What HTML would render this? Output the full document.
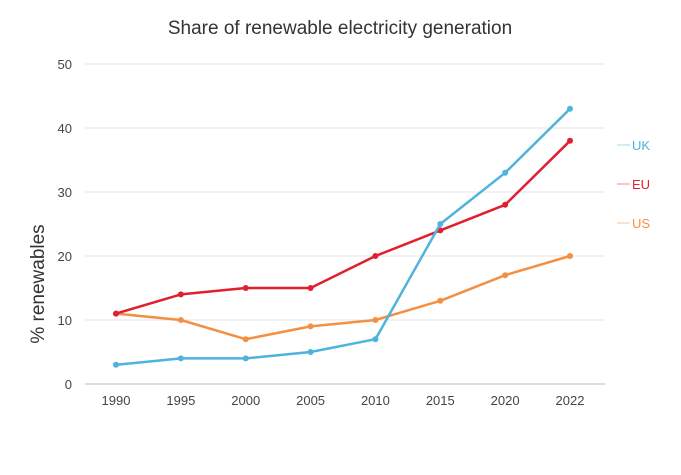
<!DOCTYPE html>
<html><head><meta charset="utf-8"><style>
body{margin:0;background:#fff;}
svg{display:block;font-family:"Liberation Sans",sans-serif;}
</style></head><body>
<svg id="chart" width="681" height="475" viewBox="0 0 681 475">
<text x="340" y="34" text-anchor="middle" font-size="19" fill="#333">Share of renewable electricity generation</text>
<text transform="translate(44,284) rotate(-90)" text-anchor="middle" font-size="19" fill="#333">% renewables</text>
<g id="grid"></g><g id="series"></g><g id="legend"></g>
</svg>
<script>
const categories=["1990","1995","2000","2005","2010","2015","2020","2022"];
const yTicks=[0,10,20,30,40,50];
const ukValues=[3,4,4,5,7,25,33,43];
const euValues=[11,14,15,15,20,24,28,38];
const usValues=[11,10,7,9,10,13,17,20];
const seriesNames=["UK","EU","US"];
const NS="http://www.w3.org/2000/svg";
const x=i=>116+i*((570-116)/(categories.length-1));
const y=v=>384-v*6.4;
function mk(tag,attrs,parent){const e=document.createElementNS(NS,tag);for(const k in attrs)e.setAttribute(k,attrs[k]);parent.appendChild(e);return e;}
const grid=document.getElementById('grid');
yTicks.forEach(t=>{
 const l=mk('line',{x1:85,x2:605,y1:y(t),y2:y(t),stroke:t===0?'#bbb':'#e4e4e4','stroke-width':1},grid);
 
 
 const tx=mk('text',{x:72,y:y(t)+5,'text-anchor':'end','font-size':13,fill:'#444'},grid);
 tx.textContent=t;
 
 
});
categories.forEach((c,i)=>{
 const tx=mk('text',{x:x(i),y:405,'text-anchor':'middle','font-size':13,fill:'#444'},grid);
 tx.textContent=c;
 
 
});
const sg=document.getElementById('series'),lg=document.getElementById('legend');
const all=[[ukValues,'#4fb3dc'],[euValues,'#e0202e'],[usValues,'#f39044']];
const order=[2,1,0];
order.forEach(si=>{
 const [vals,col]=all[si];
 const p=mk('polyline',{points:vals.map((v,i)=>x(i)+','+y(v)).join(' '),fill:'none',stroke:col,'stroke-width':2.5,'stroke-linejoin':'round'},sg);
 
 
 vals.forEach((v,i)=>{
  const c=mk('circle',{cx:x(i),cy:y(v),r:3,fill:col},sg);
  
  
 });
});
seriesNames.forEach((n,si)=>{
 const yy=145+si*39;
 const col=all[si][1];
 const l=mk('line',{x1:617,x2:630,y1:yy,y2:yy,stroke:col,'stroke-width':1,opacity:0.5},lg);
 
 
 const t=mk('text',{x:632,y:yy+5,'font-size':13,fill:col},lg);
 t.textContent=n;
 
 
});
</script>
</body></html>
